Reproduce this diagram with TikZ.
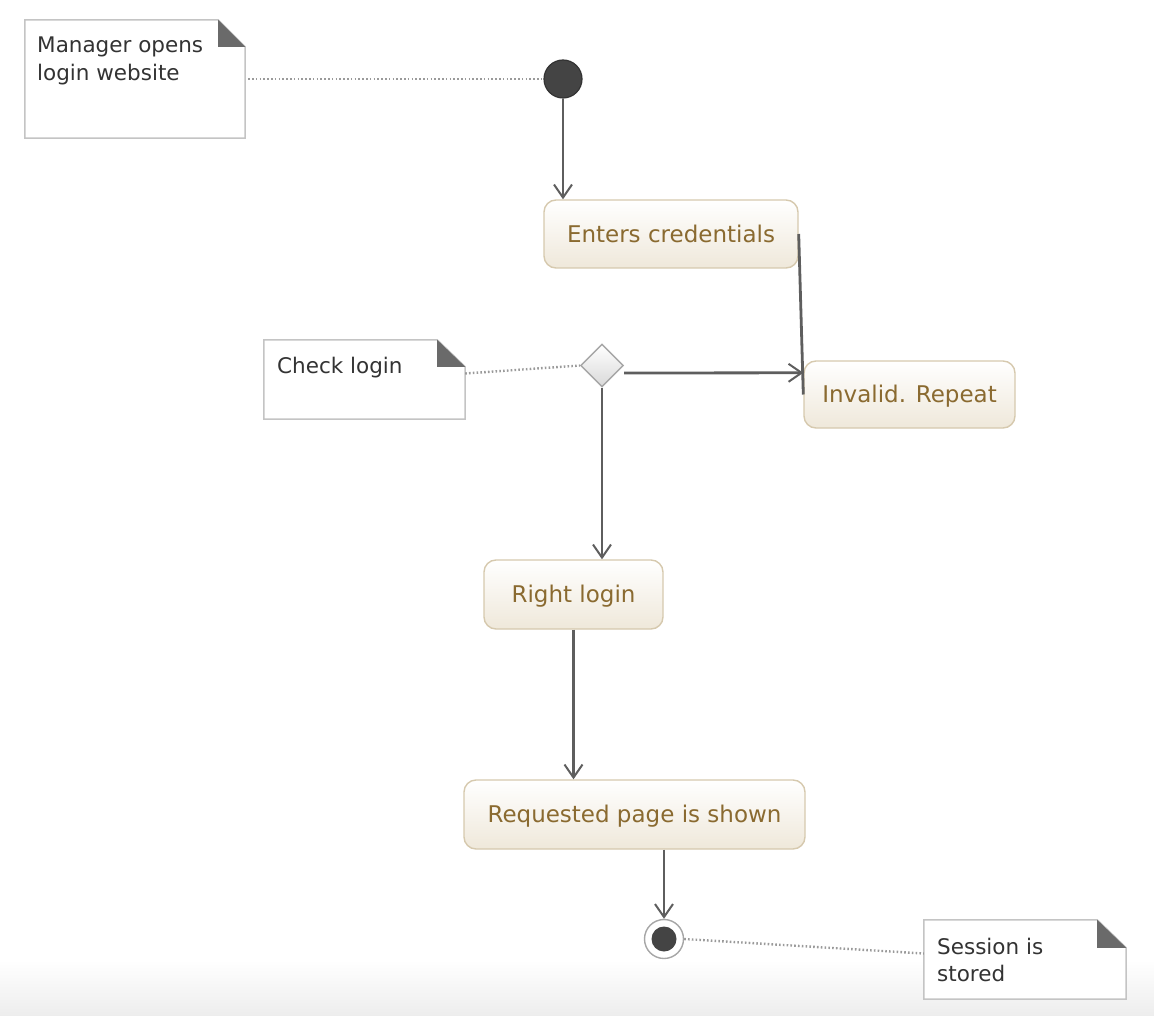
\documentclass[tikz,border=0pt]{standalone}
\usepackage{fontspec}
\setmainfont{DejaVu Sans}
\usetikzlibrary{arrows.meta,shapes.geometric}
\definecolor{acttext}{HTML}{8A6A30}
\definecolor{actborder}{HTML}{D6C9AE}
\definecolor{actbottom}{HTML}{EFE8DA}
\definecolor{notetext}{HTML}{333333}
\definecolor{noteborder}{HTML}{C4C4C4}
\definecolor{earfill}{HTML}{6A6A6A}
\definecolor{flowcol}{HTML}{5E5E5E}
\definecolor{dotcol}{HTML}{9A9A9A}
\definecolor{dotfill}{HTML}{444444}
\tikzset{
  actbox/.style={draw=actborder, line width=1.4pt, rounded corners=12pt,
    top color=white, bottom color=actbottom, inner sep=0pt,
    text=acttext, font=\fontsize{23}{27}\selectfont,
    text height=16.5pt, text depth=0pt},
  notebox/.style={draw=none, inner sep=0pt},
  noteline/.style={draw=noteborder, line width=1.5pt, fill=white},
  notetxt/.style={text=notetext, font=\fontsize{21.5}{27.5}\selectfont, align=left, inner sep=0pt, anchor=base west},
  flow/.style={draw=flowcol, line width=2.8pt, -{Straight Barb[length=13pt,width=18pt,line width=2pt]}},
  plainflow/.style={draw=flowcol, line width=2.8pt},
  dotline/.style={draw=dotcol, line width=2.4pt, dash pattern=on 1.6pt off 2.2pt},
}
\begin{document}
\begin{tikzpicture}[x=1pt,y=-1pt]
\useasboundingbox (0,0) rectangle (1154,1016);
\shade[top color=white, bottom color=black!7] (0,960) rectangle (1154,1016);

% notes
\node[notebox, minimum width=220pt, minimum height=118pt] (n1) at (135,79) {};
\draw[noteline] (n1.north west) -- ([xshift=-27pt]n1.north east) -- ([yshift=-27pt]n1.north east) -- (n1.south east) -- (n1.south west) -- cycle;
\fill[earfill] ([xshift=-27pt]n1.north east) -- ([xshift=-27pt,yshift=-27pt]n1.north east) -- ([yshift=-27pt]n1.north east) -- cycle;
\node[notetxt] (n1t) at (37,80.5) {Manager opens\\login website};

\node[notebox, minimum width=201pt, minimum height=79pt] (n2) at (364.5,379.5) {};
\draw[noteline] (n2.north west) -- ([xshift=-28pt]n2.north east) -- ([yshift=-27pt]n2.north east) -- (n2.south east) -- (n2.south west) -- cycle;
\fill[earfill] ([xshift=-28pt]n2.north east) -- ([xshift=-28pt,yshift=-27pt]n2.north east) -- ([yshift=-27pt]n2.north east) -- cycle;
\node[notetxt] (n2t) at (277,373) {Check login};

\node[notebox, minimum width=202pt, minimum height=79pt] (n3) at (1025,959.5) {};
\draw[noteline] (n3.north west) -- ([xshift=-29pt]n3.north east) -- ([yshift=-28pt]n3.north east) -- (n3.south east) -- (n3.south west) -- cycle;
\fill[earfill] ([xshift=-29pt]n3.north east) -- ([xshift=-29pt,yshift=-28pt]n3.north east) -- ([yshift=-28pt]n3.north east) -- cycle;
\node[notetxt] (n3t) at (937,981.5) {Session is\\stored};

% initial node
\node[circle, draw=black!80, line width=1.2pt, fill=dotfill, minimum size=38pt, inner sep=0pt] (init) at (563,79) {};

% activities
\node[actbox, minimum width=254pt, minimum height=68pt] (ec) at (671,234) {Enters credentials};
\node[actbox, minimum width=211pt, minimum height=67pt] (ir) at (909.5,394.5) {Invalid. Repeat};
\node[actbox, minimum width=179pt, minimum height=69pt] (rl) at (573.5,594.5) {Right login};
\node[actbox, minimum width=341pt, minimum height=69pt] (rp) at (634.5,814.5) {Requested page is shown};

% decision
\node[diamond, draw=black!35, line width=1.4pt, top color=white, bottom color=black!15,
  minimum width=43pt, minimum height=43pt, inner sep=0pt] (dia) at (602,365.5) {};

% final node
\node[circle, draw=black!35, line width=1.4pt, fill=white, minimum size=39pt, inner sep=0pt] (fin) at (664,939) {};
\fill[dotfill] (fin.center) circle (12.5pt);

% connectors
\draw[flow] (init.south) -- (init.south |- ec.north);
\draw[plainflow] (ec.east) -- (ir.west);
\draw[flow] ([yshift=-7.5pt]dia.east) -- ([yshift=-12.5pt]ir.north west);
\draw[flow] (dia.south) -- (dia.south |- rl.north);
\draw[flow] (rl.south) -- (rl.south |- rp.north);
\draw[flow] (fin.north |- rp.south) -- (fin.north);

% note links
\draw[dotline] ([xshift=3pt]n1.east) -- (init.west);
\draw[dotline] ([yshift=6pt]n2.east) -- (dia.west);
\draw[dotline] (fin.east) -- ([yshift=6pt]n3.west);
\end{tikzpicture}
\end{document}
